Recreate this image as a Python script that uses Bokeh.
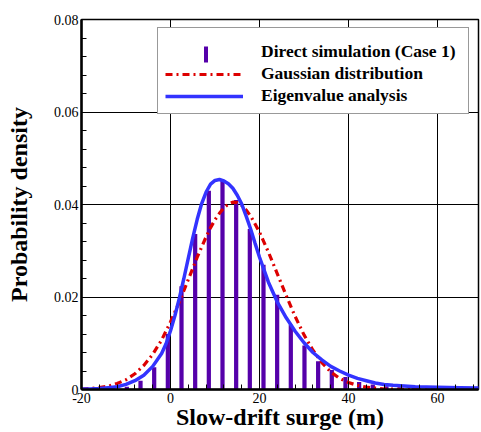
import numpy as np
from bokeh.plotting import figure
from bokeh.models import ColumnDataSource, Legend, LegendItem, FixedTicker, Range1d
from bokeh.embed import file_html
from bokeh.resources import INLINE

# ---------------- data ----------------
bar_x = [-19.0, -15.95, -12.88, -9.81, -6.74, -3.67, -0.6, 2.47, 5.54, 8.61,
         11.68, 14.75, 17.82, 20.89, 23.96, 27.03, 30.10, 33.17, 36.24, 39.31,
         42.38, 45.45, 48.52, 51.59, 54.66, 57.73, 60.80, 63.87, 66.94]
bar_y = [0.0000, 0.0001, 0.0002, 0.0006, 0.0019, 0.0048, 0.0120, 0.0223, 0.0336, 0.0430,
         0.0451, 0.0410, 0.0347, 0.0270, 0.0205, 0.0140, 0.0095, 0.0061, 0.0042, 0.0027,
         0.0016, 0.0011, 0.0007, 0.0005, 0.0003, 0.0002, 0.0002, 0.0001, 0.0001]

gauss_x = [-20, -18, -16, -14, -12, -10, -8, -6, -4, -2, 0, 2, 4, 6, 8, 9, 10, 11, 12, 13,
           14, 15, 16, 17, 18, 19, 20, 22, 24, 26, 28, 30, 32, 34, 36, 38, 40, 42, 44, 46,
           48, 50, 55, 60, 65, 70]
gauss_y = [0.0001, 0.0002, 0.0004, 0.0007, 0.0013, 0.0021, 0.0034, 0.0052, 0.0076, 0.0107,
           0.0146, 0.0190, 0.0238, 0.0286, 0.0330, 0.0350, 0.0367, 0.0381, 0.0393, 0.0401,
           0.0405, 0.0404, 0.0398, 0.0388, 0.0375, 0.0358, 0.0340, 0.0297, 0.0250, 0.0203,
           0.0158, 0.0118, 0.0085, 0.0058, 0.0038, 0.0024, 0.0015, 0.0009, 0.0005, 0.0003,
           0.0001, 0.0001, 0.0, 0.0, 0.0, 0.0]

eig_x = [-20, -18, -16, -14, -12, -10, -8, -6, -4, -2, -1, 0, 1, 2, 3, 4, 5, 6, 7, 8,
         9, 10, 11, 12, 13, 14, 15, 16, 17, 18, 19, 20, 22, 24, 26, 28, 30, 32, 34, 36,
         38, 40, 42, 44, 46, 48, 50, 55, 60, 65, 70]
eig_y = [0.0001, 0.0001, 0.0002, 0.0004, 0.0006, 0.0011, 0.0019, 0.0031, 0.0050, 0.0078,
         0.0099, 0.0127, 0.0160, 0.0198, 0.0240, 0.0284, 0.0328, 0.0368, 0.0402, 0.0427,
         0.0444, 0.0452, 0.0454, 0.0451, 0.0445, 0.0435, 0.0420, 0.0401, 0.0375, 0.0347,
         0.0316, 0.0286, 0.0232, 0.0189, 0.0155, 0.0126, 0.0101, 0.0080, 0.0064, 0.0050,
         0.0040, 0.0031, 0.0024, 0.0019, 0.0014, 0.0011, 0.0009, 0.0006, 0.0005, 0.0004,
         0.0003]

x_ticks = [-20, 0, 20, 40, 60]
x_tick_labels = ["-20", "0", "20", "40", "60"]
y_ticks = [0.0, 0.02, 0.04, 0.06, 0.08]
y_tick_labels = ["0", "0.02", "0.04", "0.06", "0.08"]

label_bars = "Direct simulation (Case 1)"
label_gauss = "Gaussian distribution"
label_eig = "Eigenvalue analysis"
x_title = "Slow-drift surge (m)"
y_title = "Probability density"

SERIF = "Liberation Serif"

# ---------------- figure ----------------
p = figure(width=481, height=432, output_backend="svg", toolbar_location=None,
           x_range=Range1d(-20, 69.2), y_range=Range1d(0, 0.08),
           min_border_left=81, min_border_right=3, min_border_top=19, min_border_bottom=42)
p.background_fill_color = "white"
p.border_fill_color = "white"
p.outline_line_color = "black"
p.outline_line_width = 1.5

bars_src = ColumnDataSource(dict(x=bar_x, top=bar_y))
gauss_src = ColumnDataSource(dict(x=gauss_x, y=gauss_y))
eig_src = ColumnDataSource(dict(x=eig_x, y=eig_y))

bars = p.vbar(x="x", top="top", bottom=0, width=0.95, source=bars_src,
              fill_color="#5500aa", line_color=None)
gauss = p.line("x", "y", source=gauss_src, line_color="#dd0000", line_width=3.2,
               line_dash="7 4 2 4")
eig = p.line("x", "y", source=eig_src, line_color="#3333ff", line_width=3.5)
# invisible renderer used only to reserve the bar row in the framed legend
dummy = p.line("x", "top", source=bars_src, line_alpha=0)

# ---------------- axes ----------------
minor_x = [v for v in np.arange(-20, 70.01, 4).tolist() if v not in x_ticks]
minor_y = [round(v, 4) for v in np.arange(0, 0.0801, 0.004).tolist()]
p.xaxis.ticker = FixedTicker(ticks=x_ticks, minor_ticks=minor_x)
p.yaxis.ticker = FixedTicker(ticks=y_ticks, minor_ticks=minor_y)
p.xaxis.major_label_overrides = {t: l for t, l in zip(x_ticks, x_tick_labels)}
p.yaxis.major_label_overrides = {t: l for t, l in zip(y_ticks, y_tick_labels)}

for ax in (p.xaxis[0], p.yaxis[0]):
    ax.axis_line_width = 2.5
    ax.axis_line_color = "black"
    ax.major_tick_in = 8
    ax.major_tick_out = 0
    ax.minor_tick_in = 5
    ax.minor_tick_out = 0
    ax.major_tick_line_color = "black"
    ax.minor_tick_line_color = "black"
    ax.major_label_text_font = SERIF
    ax.major_label_text_font_size = "14px"
    ax.major_label_text_color = "black"
    ax.axis_label_text_font = SERIF
    ax.axis_label_text_font_style = "bold"
    ax.axis_label_text_font_size = "24px"
    ax.axis_label_text_color = "black"
    ax.major_label_standoff = 3

p.xaxis.axis_label = x_title
p.yaxis.axis_label = y_title
p.xaxis.axis_label_standoff = -2
p.yaxis.axis_label_standoff = 19

p.xgrid.ticker = FixedTicker(ticks=x_ticks)
p.ygrid.ticker = FixedTicker(ticks=y_ticks)
p.grid.grid_line_color = "black"
p.grid.grid_line_width = 1
p.grid.grid_line_alpha = 1

# ---------------- legends ----------------
legA = Legend(items=[LegendItem(label=label_bars, renderers=[dummy]),
                     LegendItem(label=label_gauss, renderers=[gauss]),
                     LegendItem(label=label_eig, renderers=[eig])],
              location=(76, 275), margin=0, padding=7, spacing=1,
              glyph_width=78, glyph_height=20, label_height=20, label_width=200,
              label_standoff=18,
              label_text_font=SERIF, label_text_font_style="bold",
              label_text_font_size="17.5px", label_text_color="black",
              border_line_color="#333333", border_line_width=1,
              background_fill_color="white", background_fill_alpha=1,
              title=" ", title_text_font_size="4px", title_standoff=1)
legB = Legend(items=[LegendItem(label=" ", renderers=[bars])],
              location=(122, 325), margin=0, padding=0, spacing=0,
              glyph_width=5, glyph_height=20, label_height=20, label_width=0,
              label_standoff=0, label_text_font_size="4px", label_text_alpha=0,
              border_line_alpha=0, background_fill_alpha=0)
p.add_layout(legA, "center")
p.add_layout(legB, "center")

open("out.html", "w").write(file_html(p, INLINE))
